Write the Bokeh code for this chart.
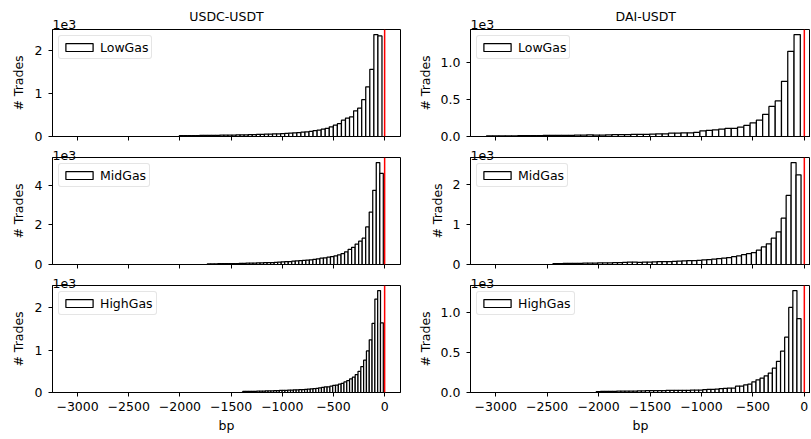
import numpy as np
from bokeh.plotting import figure
from bokeh.layouts import gridplot
from bokeh.models import (Range1d, FixedTicker, Span, Title, Legend, LegendItem,
                          ColumnDataSource)
from bokeh.embed import file_html
from bokeh.resources import INLINE

# ---------------- data ----------------
pairs = ["USDC-USDT", "DAI-USDT"]
gas_levels = ["LowGas", "MidGas", "HighGas"]

x_ticks = [-3000, -2500, -2000, -1500, -1000, -500, 0]
x_tick_labels = ["\u22123000", "\u22122500", "\u22122000", "\u22121500",
                 "\u22121000", "\u2212500", "0"]

# histogram bin range (min, max) in bp for each panel, 50 bins each
usdc_low_range = (-2006, -26)
usdc_mid_range = (-1733, -13)
usdc_high_range = (-1386, -13)
dai_low_range = (-3090, -39)
dai_mid_range = (-2443, -32)
dai_high_range = (-2022, -32)

usdc_low_counts = [18, 20, 20, 22, 22, 24, 25, 26, 27, 28,
                   30, 30, 32, 34, 36, 38, 40, 42, 44, 47,
                   50, 53, 56, 60, 64, 70, 74, 80, 86, 92,
                   100, 110, 120, 135, 150, 170, 190, 225, 265, 300,
                   380, 430, 460, 600, 660, 860, 1160, 1570, 2380, 2350]
usdc_mid_counts = [30, 32, 35, 38, 40, 42, 45, 48, 50, 55,
                   60, 65, 70, 75, 80, 85, 90, 95, 100, 110,
                   120, 130, 140, 150, 165, 180, 190, 205, 220, 240,
                   260, 290, 320, 340, 370, 400, 440, 490, 550, 640,
                   760, 870, 1030, 1180, 1330, 1900, 2650, 3750, 5150, 4600]
usdc_high_counts = [24, 25, 26, 27, 28, 30, 32, 34, 36, 38,
                    40, 42, 45, 48, 50, 52, 55, 58, 60, 62,
                    65, 70, 75, 80, 85, 90, 100, 110, 120, 130,
                    130, 150, 170, 175, 195, 215, 250, 280, 320, 360,
                    420, 500, 610, 760, 980, 1240, 1630, 2200, 2400, 1640]
dai_low_counts = [8, 8, 9, 10, 10, 11, 12, 12, 13, 14,
                  14, 15, 16, 16, 17, 18, 22, 20, 20, 22,
                  24, 24, 25, 27, 27, 30, 32, 36, 36, 45,
                  45, 50, 50, 54, 77, 81, 90, 100, 108, 108,
                  126, 150, 185, 220, 300, 405, 480, 745, 1150, 1375]
dai_mid_counts = [24, 25, 26, 27, 28, 30, 32, 34, 36, 38,
                  40, 42, 45, 48, 52, 60, 58, 55, 58, 62,
                  67, 70, 72, 75, 80, 85, 90, 95, 100, 105,
                  115, 125, 135, 150, 160, 175, 195, 215, 245, 270,
                  300, 360, 440, 520, 660, 820, 1160, 1730, 2555, 2250]
dai_high_counts = [12, 13, 14, 15, 15, 16, 16, 17, 18, 18,
                   20, 20, 22, 22, 22, 22, 24, 25, 25, 26,
                   26, 28, 28, 30, 30, 30, 35, 38, 38, 42,
                   48, 50, 54, 54, 78, 80, 96, 104, 133, 158,
                   180, 208, 242, 304, 388, 515, 690, 1060, 1270, 920]

usdc_low_yticks = [0, 1000, 2000]
usdc_low_ylabels = ["0", "1", "2"]
usdc_mid_yticks = [0, 2000, 4000]
usdc_mid_ylabels = ["0", "2", "4"]
usdc_high_yticks = [0, 1000, 2000]
usdc_high_ylabels = ["0", "1", "2"]
dai_low_yticks = [0, 500, 1000]
dai_low_ylabels = ["0.0", "0.5", "1.0"]
dai_mid_yticks = [0, 1000, 2000]
dai_mid_ylabels = ["0", "1", "2"]
dai_high_yticks = [0, 500, 1000]
dai_high_ylabels = ["0.0", "0.5", "1.0"]

offset_text = "1e3"
x_label = "bp"
y_label = "# Trades"

FONT = "DejaVu Sans"
FS = "12.5px"


def make_title(text, align, valign, standoff, offset=0):
    return Title(text=text, align=align, vertical_align=valign,
                 standoff=standoff, offset=offset, text_font=FONT,
                 text_font_size=FS, text_font_style="normal",
                 text_color="black")


def make_panel(counts, rng, yticks, ylabels, gas, row, col):
    counts = np.asarray(counts, dtype=float)
    edges = np.linspace(rng[0], rng[1], len(counts) + 1)
    centers = (edges[:-1] + edges[1:]) / 2
    bw = edges[1] - edges[0]
    ymax = counts.max() * 1.05

    if col == 0:
        xr = Range1d(-3245, 155)
        fw, bl, br = 348, 52, 10
        ylab_standoff = 6
    else:
        xr = Range1d(-3245, 60)
        fw, bl, br = 340, 60, 0
        ylab_standoff = 5
    fh = 107
    if row == 0:
        bt, bb = 29, 8
    elif row == 1:
        bt, bb = 13, 8
    else:
        bt, bb = 13, 46

    p = figure(width=bl + fw + br, height=bt + fh + bb, x_range=xr,
               y_range=Range1d(0, ymax), output_backend="svg",
               toolbar_location=None, title_location=None,
               min_border_left=bl, min_border_right=br,
               min_border_top=bt, min_border_bottom=bb)
    p.background_fill_color = "white"
    p.border_fill_color = "white"
    p.outline_line_color = "black"
    p.outline_line_width = 1
    p.outline_line_alpha = 1
    p.xgrid.visible = False
    p.ygrid.visible = False

    src = ColumnDataSource(dict(x=centers, top=counts))
    r = p.vbar(x="x", top="top", width=bw, bottom=0, source=src,
               fill_color="white", line_color="black", line_width=1.25)

    p.add_layout(Span(location=0, dimension="height", line_color="red",
                      line_width=1.5))

    # x axis
    xa = p.xaxis[0]
    xa.ticker = FixedTicker(ticks=x_ticks)
    xa.major_label_overrides = {t: l for t, l in zip(x_ticks, x_tick_labels)}
    xa.minor_tick_line_color = None
    xa.major_tick_in = 0
    xa.major_tick_out = 4
    xa.axis_line_color = "black"
    xa.major_tick_line_color = "black"
    xa.major_label_text_font = FONT
    xa.major_label_text_font_size = FS
    if row < 2:
        xa.major_label_text_color = None
        xa.major_label_standoff = 0
    else:
        xa.major_label_text_color = "black"
        xa.major_label_standoff = 5
        xa.axis_label = x_label
        xa.axis_label_text_font = FONT
        xa.axis_label_text_font_size = FS
        xa.axis_label_text_font_style = "normal"
        xa.axis_label_standoff = 4
        xa.axis_label_text_color = "black"

    # y axis
    ya = p.yaxis[0]
    ya.ticker = FixedTicker(ticks=yticks)
    ya.major_label_overrides = {t: l for t, l in zip(yticks, ylabels)}
    ya.minor_tick_line_color = None
    ya.major_tick_in = 0
    ya.major_tick_out = 4
    ya.major_label_standoff = 6
    ya.axis_line_color = "black"
    ya.major_tick_line_color = "black"
    ya.major_label_text_font = FONT
    ya.major_label_text_font_size = FS
    ya.major_label_text_color = "black"
    ya.axis_label = y_label
    ya.axis_label_text_font = FONT
    ya.axis_label_text_font_size = FS
    ya.axis_label_text_font_style = "normal"
    ya.axis_label_standoff = ylab_standoff
    ya.axis_label_text_color = "black"

    # offset text ("1e3") and column title
    if row == 0:
        p.add_layout(make_title(offset_text, "left", "bottom", 2), "above")
        if col == 0:
            p.add_layout(make_title(pairs[col], "center", "bottom", -15), "above")
        else:
            p.add_layout(make_title(pairs[col], "left", "bottom", -15, 145), "above")
    else:
        p.add_layout(make_title(offset_text, "left", "top", -8), "above")

    legend = Legend(items=[LegendItem(label=gas, renderers=[r])],
                    location="top_left")
    legend.margin = 6
    legend.padding = 3
    legend.spacing = 0
    legend.glyph_width = 34
    legend.glyph_height = 10
    legend.label_height = 16
    legend.label_standoff = 4
    legend.label_text_font = FONT
    legend.label_text_font_size = FS
    legend.label_text_color = "black"
    legend.border_line_color = "#cccccc"
    legend.border_line_width = 1
    legend.background_fill_alpha = 0.8
    if "border_radius" in Legend.properties():
        legend.border_radius = 3
    p.add_layout(legend)
    return p


panels = [
    [make_panel(usdc_low_counts, usdc_low_range, usdc_low_yticks, usdc_low_ylabels, gas_levels[0], 0, 0),
     make_panel(dai_low_counts, dai_low_range, dai_low_yticks, dai_low_ylabels, gas_levels[0], 0, 1)],
    [make_panel(usdc_mid_counts, usdc_mid_range, usdc_mid_yticks, usdc_mid_ylabels, gas_levels[1], 1, 0),
     make_panel(dai_mid_counts, dai_mid_range, dai_mid_yticks, dai_mid_ylabels, gas_levels[1], 1, 1)],
    [make_panel(usdc_high_counts, usdc_high_range, usdc_high_yticks, usdc_high_ylabels, gas_levels[2], 2, 0),
     make_panel(dai_high_counts, dai_high_range, dai_high_yticks, dai_high_ylabels, gas_levels[2], 2, 1)],
]

layout = gridplot(panels, toolbar_location=None)

open("out.html", "w").write(file_html(layout, INLINE))
